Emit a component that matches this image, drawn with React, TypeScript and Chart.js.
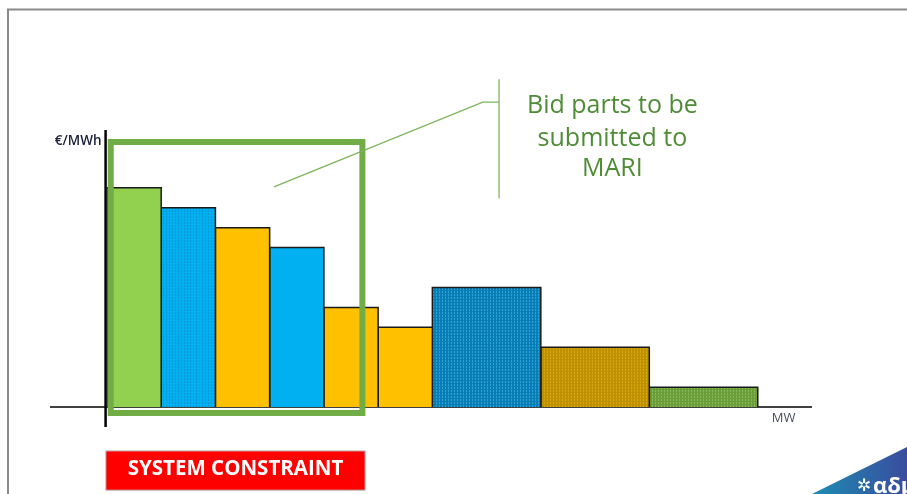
import { useEffect, useRef } from "react";
import { Chart, registerables } from "chart.js";
Chart.register(...registerables);

// ---- data ----
const bidWidthsMW = [1, 1, 1, 1, 1, 1, 2, 2, 2];
const bidPrices = [11, 10, 9, 8, 5, 4, 6, 3, 1];
const bidColors = ["#92D050", "#00B0F0", "#FFC000", "#00B0F0", "#FFC000", "#FFC000", "#0A7DB4", "#BF9000", "#6B9E3B"];
const bidAccents = [null, "#0A97D4", null, null, null, null, "#2AA3DA", "#D6A70A", "#86B955"];
const xRange = [-1.05, 13];
const yRange = [-1, 13.9];
const yAxisAtMW = -0.025;
const mariBoxX = [0.07, 4.71];
const mariBoxY = [-0.3, 13.3];
const calloutLineX = [3.08, 6.93, 7.23];
const calloutLineY = [11.05, 15.3, 15.3];
const calloutBarX = 7.23;
const calloutBarY = [16.44, 10.47];
const calloutText = ["Bid parts to be", "submitted to", "MARI"];
const calloutTextX = 9.32;
const calloutTextY = [15.1, 13.47, 11.97];
const yAxisTitle = "€/MWh";
const xAxisTitle = "MW";
const constraintLabel = "SYSTEM CONSTRAINT";
const constraintX = [-0.02, 4.76];
const constraintY = [-2.2, -4.17];
const logoText = "αδμηε";

function makePattern(base: string, accent: string | null): string | CanvasPattern {
  if (!accent) return base;
  const c = document.createElement("canvas");
  c.width = 3;
  c.height = 3;
  const g = c.getContext("2d")!;
  g.fillStyle = base;
  g.fillRect(0, 0, 3, 3);
  g.fillStyle = accent;
  g.fillRect(1, 0, 1, 2);
  const p = g.createPattern(c, "repeat");
  return p || base;
}

const overlayPlugin = {
  id: "overlay",
  beforeDraw(chart: any) {
    const { ctx } = chart;
    ctx.save();
    ctx.fillStyle = "#ffffff";
    ctx.fillRect(0, 0, chart.width, chart.height);
    ctx.strokeStyle = "#8a8a8a";
    ctx.lineWidth = 2;
    ctx.beginPath();
    ctx.moveTo(8, chart.height);
    ctx.lineTo(8, 9.5);
    ctx.lineTo(chart.width, 9.5);
    ctx.stroke();
    ctx.restore();
  },
  beforeDatasetsDraw(chart: any) {
    const { ctx, chartArea, scales } = chart;
    const x = scales.x;
    const y = scales.y;
    ctx.save();
    ctx.strokeStyle = "#404040";
    ctx.lineWidth = 2;
    ctx.beginPath();
    ctx.moveTo(chartArea.left, y.getPixelForValue(0));
    ctx.lineTo(chartArea.right, y.getPixelForValue(0));
    ctx.stroke();
    ctx.strokeStyle = "#000000";
    ctx.lineWidth = 2.5;
    ctx.beginPath();
    ctx.moveTo(x.getPixelForValue(yAxisAtMW), chartArea.top);
    ctx.lineTo(x.getPixelForValue(yAxisAtMW), chartArea.bottom);
    ctx.stroke();
    ctx.restore();
  },
  afterDatasetsDraw(chart: any) {
    const { ctx, scales, width, height } = chart;
    const x = scales.x;
    const y = scales.y;
    ctx.save();
    // callout
    ctx.strokeStyle = "#7DB55A";
    ctx.lineWidth = 1.3;
    ctx.beginPath();
    calloutLineX.forEach((v, i) => {
      const px = x.getPixelForValue(v);
      const py = y.getPixelForValue(calloutLineY[i]);
      if (i === 0) ctx.moveTo(px, py);
      else ctx.lineTo(px, py);
    });
    ctx.stroke();
    ctx.beginPath();
    ctx.moveTo(x.getPixelForValue(calloutBarX), y.getPixelForValue(calloutBarY[0]));
    ctx.lineTo(x.getPixelForValue(calloutBarX), y.getPixelForValue(calloutBarY[1]));
    ctx.stroke();
    ctx.fillStyle = "#4F8C36";
    ctx.font = "500 25px 'Open Sans'";
    ctx.textAlign = "center";
    ctx.textBaseline = "middle";
    calloutText.forEach((t, i) => {
      ctx.fillText(t, x.getPixelForValue(calloutTextX), y.getPixelForValue(calloutTextY[i]));
    });
    // axis titles
    ctx.fillStyle = "#1B2038";
    ctx.font = "600 13.5px 'Open Sans'";
    ctx.textAlign = "right";
    ctx.fillText(yAxisTitle, x.getPixelForValue(yAxisAtMW) - 4, y.getPixelForValue(13.35));
    ctx.fillStyle = "#4A4F60";
    ctx.font = "13px 'Open Sans'";
    ctx.textAlign = "left";
    ctx.fillText(xAxisTitle, x.getPixelForValue(12.26), y.getPixelForValue(-0.55));
    // constraint box
    const bx0 = x.getPixelForValue(constraintX[0]);
    const bx1 = x.getPixelForValue(constraintX[1]);
    const by0 = y.getPixelForValue(constraintY[0]);
    const by1 = y.getPixelForValue(constraintY[1]);
    ctx.fillStyle = "#FF0000";
    ctx.fillRect(bx0, by0, bx1 - bx0, by1 - by0);
    ctx.strokeStyle = "#bdbdbd";
    ctx.lineWidth = 1;
    ctx.strokeRect(bx0, by0, bx1 - bx0, by1 - by0);
    ctx.fillStyle = "#ffffff";
    ctx.font = "bold 20.5px 'Open Sans'";
    ctx.textAlign = "center";
    ctx.fillText(constraintLabel, (bx0 + bx1) / 2, (by0 + by1) / 2 - 1);
    // logo corner
    const grad = ctx.createLinearGradient(width - 95, 0, width, 0);
    grad.addColorStop(0, "#1C8DB3");
    grad.addColorStop(1, "#3A4C9E");
    ctx.fillStyle = grad;
    ctx.beginPath();
    ctx.moveTo(width - 95, height);
    ctx.lineTo(width, height - 47);
    ctx.lineTo(width, height);
    ctx.closePath();
    ctx.fill();
    ctx.fillStyle = "#ffffff";
    ctx.font = "bold 17px 'DejaVu Sans'";
    ctx.textAlign = "left";
    ctx.textBaseline = "alphabetic";
    ctx.fillText("✲", width - 50, height - 3);
    ctx.font = "bold 22px 'Open Sans'";
    ctx.fillText(logoText, width - 34, height - 1);
    ctx.restore();
  },
};

export default function App() {
  const ref = useRef<HTMLCanvasElement>(null);
  useEffect(() => {
    if (!ref.current) return;
    let start = 0;
    const barSets = bidPrices.map((p, i) => {
      const s = start;
      const e = start + bidWidthsMW[i];
      start = e;
      return {
        data: [
          { x: s, y: 0 },
          { x: s, y: p },
          { x: e, y: p },
          { x: e, y: 0 },
        ],
        backgroundColor: makePattern(bidColors[i], bidAccents[i]),
        borderColor: "#1a1a1a",
        borderWidth: 1.5,
        fill: "origin",
        pointRadius: 0,
        tension: 0,
        borderJoinStyle: "miter",
      };
    });
    const boxSet = {
      data: [
        { x: mariBoxX[0], y: mariBoxY[0] },
        { x: mariBoxX[0], y: mariBoxY[1] },
        { x: mariBoxX[1], y: mariBoxY[1] },
        { x: mariBoxX[1], y: mariBoxY[0] },
        { x: mariBoxX[0], y: mariBoxY[0] },
      ],
      borderColor: "#70AD47",
      borderWidth: 6,
      fill: false,
      pointRadius: 0,
      tension: 0,
      borderJoinStyle: "miter",
      borderCapStyle: "square",
    };
    const chart = new Chart(ref.current, {
      type: "line",
      data: { datasets: [boxSet, ...barSets] as any },
      options: {
        animation: false,
        responsive: false,
        devicePixelRatio: 1,
        layout: { padding: { left: 50, right: 95, top: 130, bottom: 67 } },
        plugins: { legend: { display: false }, tooltip: { enabled: false } },
        scales: {
          x: { type: "linear", min: xRange[0], max: xRange[1], display: false },
          y: { type: "linear", min: yRange[0], max: yRange[1], display: false },
        },
      } as any,
      plugins: [overlayPlugin],
    });
    return () => chart.destroy();
  }, []);
  return (
    <div style={{ position: "fixed", left: 0, top: 0, width: 907, height: 494 }}>
      <canvas ref={ref} width={907} height={494} style={{ display: "block" }} />
    </div>
  );
}
